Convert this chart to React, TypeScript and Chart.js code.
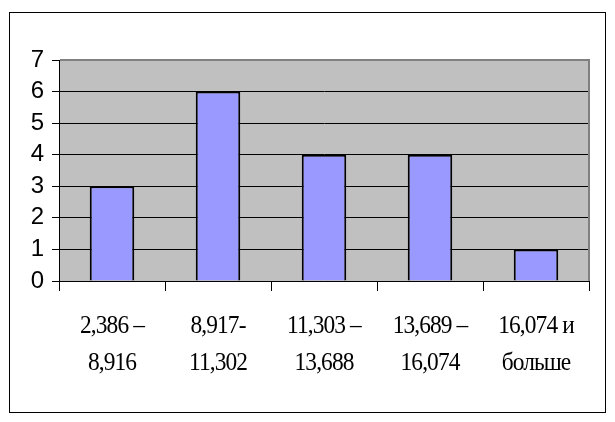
import React, { useEffect, useRef } from "react";
import { Chart, registerables } from "chart.js";

Chart.register(...registerables);

const categoryLine1: string[] = ["2,386 –", "8,917-", "11,303 –", "13,689 –", "16,074 и"];
const categoryLine2: string[] = ["8,916", "11,302", "13,688", "16,074", "больше"];
const frequencies: number[] = [3, 6, 4, 4, 1];
const yTicks: number[] = [0, 1, 2, 3, 4, 5, 6, 7];

const plotBgPlugin = {
  id: "plotBg",
  beforeDraw(chart: any) {
    const { ctx, chartArea } = chart;
    ctx.save();
    ctx.fillStyle = "#C0C0C0";
    ctx.fillRect(chartArea.left, chartArea.top, chartArea.right - chartArea.left, chartArea.bottom - chartArea.top);
    ctx.restore();
  },
  afterDraw(chart: any) {
    const { ctx, chartArea } = chart;
    ctx.save();
    ctx.strokeStyle = "#808080";
    ctx.lineWidth = 2;
    ctx.beginPath();
    ctx.moveTo(chartArea.left + 1, chartArea.top);
    ctx.lineTo(chartArea.right, chartArea.top);
    ctx.lineTo(chartArea.right, chartArea.bottom);
    ctx.stroke();
    // x labels (condensed serif, two lines)
    const xScale = chart.scales.x;
    ctx.fillStyle = "#000";
    ctx.font = "26px 'Liberation Serif'";
    ctx.textAlign = "center";
    ctx.textBaseline = "alphabetic";
    try {
      (ctx as any).letterSpacing = "-1px";
    } catch (e) {}
    for (let i = 0; i < categoryLine1.length; i++) {
      const x = xScale.getPixelForTick(i);
      const lines = [categoryLine1[i], categoryLine2[i]];
      lines.forEach((t, j) => {
        ctx.save();
        ctx.translate(x, chartArea.bottom + 52 + j * 37);
        ctx.scale(0.9, 1);
        ctx.fillText(t, 0, 0);
        ctx.restore();
      });
    }
    (ctx as any).letterSpacing = "0px";
    ctx.restore();
  },
};

export default function App() {
  const ref = useRef<HTMLCanvasElement | null>(null);
  useEffect(() => {
    if (!ref.current) return;
    const chart = new Chart(ref.current, {
      type: "bar",
      data: {
        labels: categoryLine1.map((l, i) => l + " " + categoryLine2[i]),
        datasets: [
          {
            data: frequencies,
            backgroundColor: "#9999FF",
            borderColor: "#000000",
            borderWidth: 2,
            barPercentage: 0.42,
            categoryPercentage: 1,
          },
        ],
      },
      options: {
        animation: false,
        responsive: false,
        devicePixelRatio: 1,
        layout: { padding: { left: 0, top: 60, right: 26, bottom: 0 } },
        plugins: { legend: { display: false }, tooltip: { enabled: false } },
        scales: {
          x: {
            offset: true,
            grid: {
              offset: true,
              drawOnChartArea: false,
              drawTicks: true,
              tickLength: 10,
              color: "#000",
            },
            border: { color: "#000", width: 1 },
            ticks: { display: false },
            afterFit(scale: any) {
              scale.height = 141;
            },
          },
          y: {
            min: 0,
            max: yTicks[yTicks.length - 1],
            afterBuildTicks(scale: any) {
              scale.ticks = yTicks.map((v) => ({ value: v }));
            },
            grid: { color: "#000", lineWidth: 1, tickLength: 7 },
            border: { color: "#000", width: 1 },
            ticks: {
              stepSize: 1,
              autoSkip: false,
              padding: 8,
              color: "#000",
              font: { family: "'Liberation Sans'", size: 24 },
            },
            afterFit(scale: any) {
              scale.width = 59;
            },
          },
        },
      },
      plugins: [plotBgPlugin],
    });
    return () => chart.destroy();
  }, []);

  return (
    <div style={{ position: "fixed", left: 0, top: 0, width: 615, height: 422, background: "#fff" }}>
      <canvas ref={ref} width={615} height={422} style={{ position: "absolute", left: 0, top: 0, width: 615, height: 422 }} />
      <div
        style={{
          position: "absolute",
          left: 9,
          top: 12,
          width: 597,
          height: 401,
          boxSizing: "border-box",
          border: "1px solid #000",
          pointerEvents: "none",
        }}
      />
    </div>
  );
}
